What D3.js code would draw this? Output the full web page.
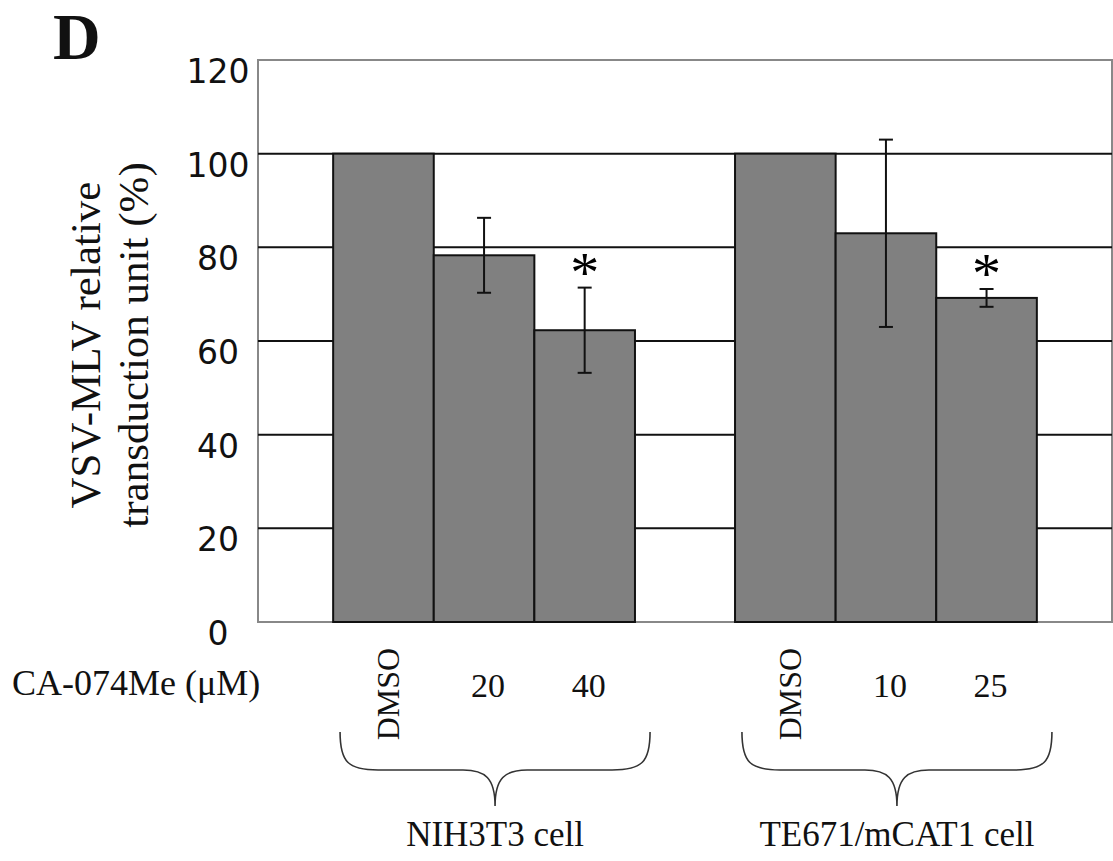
<!DOCTYPE html>
<html>
<head>
<meta charset="utf-8">
<script src="https://cdn.jsdelivr.net/npm/d3@7"></script>
<style>
  body { margin: 0; background: #fff; }
  svg { display: block; }
</style>
</head>
<body>
<div id="chart"></div>
<script>
// data
var groups = ["NIH3T3 cell", "TE671/mCAT1 cell"];
var doseLabels = [["DMSO", "20", "40"], ["DMSO", "10", "25"]];
var values = [[100, 78.3, 62.3], [100, 83, 69.2]];
var errors = [[0, 8, 9.1], [0, 20, 1.9]];
var significant = [[false, false, true], [false, false, true]];
var yTicks = [0, 20, 40, 60, 80, 100, 120];
var gridTicks = [20, 40, 60, 80, 100];

var width = 1113, height = 861;
var plot = {left: 258, right: 1112, top: 60, bottom: 622};

var svg = d3.select("#chart").append("svg")
    .attr("width", width)
    .attr("height", height);

var y = d3.scaleLinear().domain([0, 120]).range([plot.bottom, plot.top]);
var x0 = d3.scaleBand().domain(groups).range([plot.left, plot.right])
    .paddingInner(0.249).paddingOuter(0.187);
var x1 = d3.scaleBand().domain([0, 1, 2]).range([0, x0.bandwidth()]);

// flatten for drawing
var rows = [];
groups.forEach(function(g, gi) {
    values[gi].forEach(function(v, i) {
        rows.push({group: g, gi: gi, i: i, value: v, err: errors[gi][i],
                   sig: significant[gi][i], label: doseLabels[gi][i]});
    });
});
function barX(d) { return x0(d.group) + x1(d.i); }
function barC(d) { return barX(d) + x1.bandwidth() / 2; }

// plot frame
svg.append("rect")
    .attr("x", plot.left).attr("y", plot.top)
    .attr("width", plot.right - plot.left).attr("height", plot.bottom - plot.top)
    .attr("fill", "#fff")
    .attr("stroke", "#888")
    .attr("stroke-width", 2);

// gridlines
svg.selectAll(".grid")
    .data(gridTicks)
  .enter().append("line")
    .attr("class", "grid")
    .attr("x1", plot.left).attr("x2", plot.right)
    .attr("y1", function(d) { return y(d); })
    .attr("y2", function(d) { return y(d); })
    .attr("stroke", "#111")
    .attr("stroke-width", 2);

// bars
svg.selectAll(".bar")
    .data(rows)
  .enter().append("rect")
    .attr("class", "bar")
    .attr("x", barX)
    .attr("y", function(d) { return y(d.value); })
    .attr("width", x1.bandwidth())
    .attr("height", function(d) { return y(0) - y(d.value); })
    .attr("fill", "#808080")
    .attr("stroke", "#111")
    .attr("stroke-width", 2);

// error bars
var eb = rows.filter(function(d) { return d.err > 0; });
var capW = 7;
var errG = svg.selectAll(".err")
    .data(eb)
  .enter().append("g")
    .attr("class", "err")
    .attr("stroke", "#111")
    .attr("stroke-width", 2);
errG.append("line")
    .attr("x1", barC).attr("x2", barC)
    .attr("y1", function(d) { return y(d.value + d.err); })
    .attr("y2", function(d) { return y(d.value - d.err); });
errG.append("line")
    .attr("x1", function(d) { return barC(d) - capW; })
    .attr("x2", function(d) { return barC(d) + capW; })
    .attr("y1", function(d) { return y(d.value + d.err); })
    .attr("y2", function(d) { return y(d.value + d.err); });
errG.append("line")
    .attr("x1", function(d) { return barC(d) - capW; })
    .attr("x2", function(d) { return barC(d) + capW; })
    .attr("y1", function(d) { return y(d.value - d.err); })
    .attr("y2", function(d) { return y(d.value - d.err); });

// asterisks
svg.selectAll(".sig")
    .data(rows.filter(function(d) { return d.sig; }))
  .enter().append("text")
    .attr("class", "sig")
    .attr("x", barC)
    .attr("y", function(d) { return y(d.value + d.err) + 4; })
    .attr("text-anchor", "middle")
    .style("font-family", "'Liberation Serif', 'Times New Roman', serif")
    .style("font-size", "58px")
    .text("*");

// y axis
var yAxis = d3.axisLeft(y).tickValues(yTicks).tickSize(0).tickPadding(40);
var yg = svg.append("g")
    .attr("transform", "translate(" + plot.left + ",0)")
    .call(yAxis);
yg.select(".domain").remove();
yg.selectAll("text")
    .attr("text-anchor", "middle")
    .attr("dy", "0.68em")
    .style("font-family", "'DejaVu Sans', sans-serif")
    .style("font-size", "33px")
    .style("fill", "#111");

// y title
var yt = svg.append("text")
    .attr("transform", "translate(100,345) rotate(-90)")
    .attr("text-anchor", "middle")
    .style("font-family", "'Liberation Serif', 'Times New Roman', serif")
    .style("font-size", "43px")
    .style("fill", "#111");
yt.append("tspan").attr("x", 0).attr("y", 0).text("VSV-MLV relative");
yt.append("tspan").attr("x", 0).attr("y", 48).text("transduction unit (%)");

// panel letter
svg.append("text")
    .attr("x", 53).attr("y", 59)
    .style("font-family", "'Liberation Serif', 'Times New Roman', serif")
    .style("font-weight", "bold")
    .style("font-size", "66px")
    .style("fill", "#111")
    .text("D");

// dose row
svg.append("text")
    .attr("x", 12).attr("y", 695)
    .style("font-family", "'Liberation Serif', 'Times New Roman', serif")
    .style("font-size", "36px")
    .style("fill", "#111")
    .text("CA-074Me (\u03bcM)");

svg.selectAll(".dose")
    .data(rows)
  .enter().append("text")
    .attr("class", "dose")
    .attr("text-anchor", "middle")
    .attr("transform", function(d) {
        if (d.i === 0) return "translate(" + (barC(d) + 16) + ",694) rotate(-90)";
        return "translate(" + (barC(d) + 4) + ",697)";
    })
    .style("font-family", "'Liberation Serif', 'Times New Roman', serif")
    .style("font-size", function(d) { return d.i === 0 ? "32px" : "34px"; })
    .style("fill", "#111")
    .text(function(d) { return d.label; });

// braces and group labels
function bracePath(cx, half, top, mid, tip) {
    var a = cx - half, b = cx + half;
    return "M" + a + "," + top +
        " C" + a + "," + (mid - 8) + " " + (a + 8) + "," + mid + " " + (a + 38) + "," + mid +
        " L" + (cx - 32) + "," + mid +
        " C" + (cx - 10) + "," + mid + " " + cx + "," + (mid + 8) + " " + cx + "," + tip +
        " C" + cx + "," + (mid + 8) + " " + (cx + 10) + "," + mid + " " + (cx + 32) + "," + mid +
        " L" + (b - 38) + "," + mid +
        " C" + (b - 8) + "," + mid + " " + b + "," + (mid - 8) + " " + b + "," + top;
}
svg.selectAll(".brace")
    .data(groups)
  .enter().append("path")
    .attr("class", "brace")
    .attr("d", function(g) {
        return bracePath(x0(g) + x0.bandwidth() / 2 + 11, 155, 732, 770, 806);
    })
    .attr("fill", "none")
    .attr("stroke", "#333")
    .attr("stroke-width", 1.6);

svg.selectAll(".grp")
    .data(groups)
  .enter().append("text")
    .attr("class", "grp")
    .attr("x", function(g) { return x0(g) + x0.bandwidth() / 2 + 11; })
    .attr("y", 846)
    .attr("text-anchor", "middle")
    .style("font-family", "'Liberation Serif', 'Times New Roman', serif")
    .style("font-size", "35px")
    .style("fill", "#111")
    .text(function(g) { return g; });
</script>
</body>
</html>
